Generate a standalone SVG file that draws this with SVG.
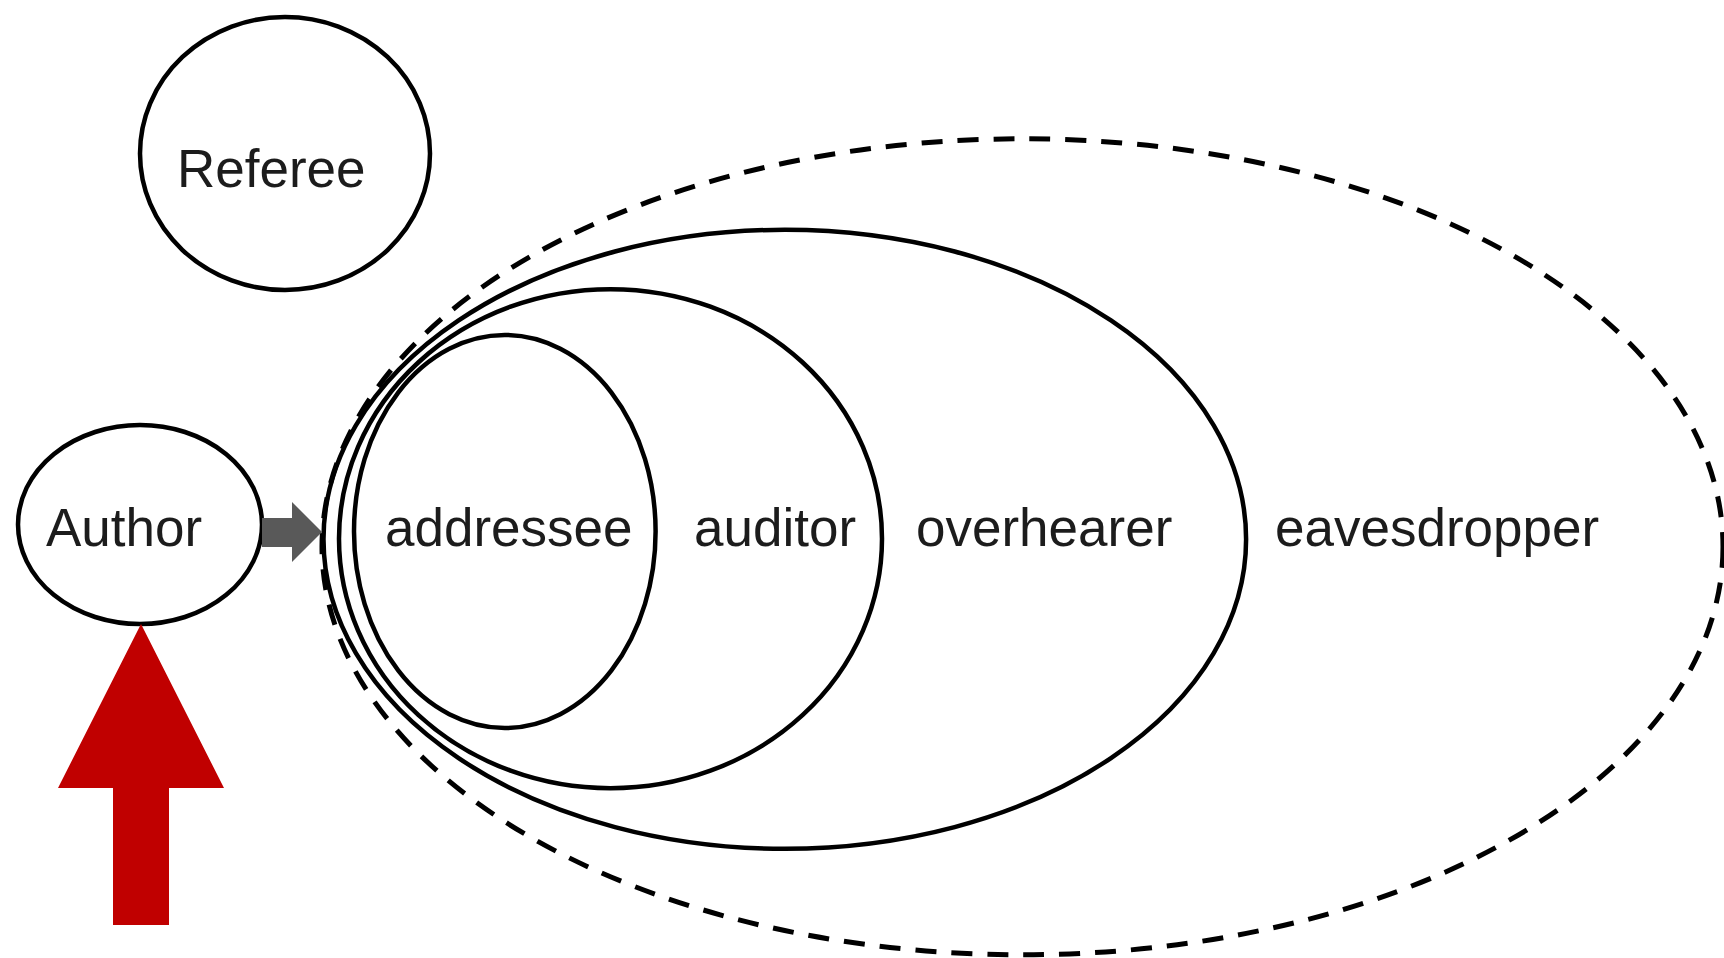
<svg xmlns="http://www.w3.org/2000/svg" width="1724" height="958" viewBox="0 0 1724 958">
  <style>
    .ring { fill: none; stroke: #000; stroke-width: 4.5; }
    .dash { fill: none; stroke: #000; stroke-width: 5; stroke-dasharray: 21 15; }
    .label { font-family: "Liberation Sans", Arial, sans-serif; font-size: 53px; fill: #1c1c1c; }
  </style>

  <rect width="1724" height="958" fill="#fff"/>

  <!-- audience rings, outermost first -->
  <g id="eavesdropper">
    <ellipse class="dash" cx="1022.5" cy="546.8" rx="700.5" ry="408"/>
    <text class="label" x="1275" y="546">eavesdropper</text>
  </g>
  <g id="overhearer">
    <ellipse class="ring" cx="784.8" cy="539.3" rx="461.3" ry="309.5"/>
    <text class="label" x="916" y="546">overhearer</text>
  </g>
  <g id="auditor">
    <ellipse class="ring" cx="610.5" cy="538.7" rx="271.5" ry="249.5"/>
    <text class="label" x="694" y="546">auditor</text>
  </g>
  <g id="addressee">
    <ellipse class="ring" cx="504.8" cy="531.5" rx="150.8" ry="196.5"/>
    <text class="label" x="385" y="546">addressee</text>
  </g>

  <g id="referee">
    <ellipse class="ring" cx="285" cy="153.5" rx="145" ry="136.5"/>
    <text class="label" x="177" y="187">Referee</text>
  </g>
  <g id="author">
    <ellipse class="ring" cx="140" cy="524.5" rx="122" ry="99.5"/>
    <text class="label" x="46" y="546">Author</text>
  </g>

  <!-- block arrows -->
  <g id="connectors">
    <polygon fill="#595959" points="262,518 292,518 292,502 322,532 292,562 292,547 262,547"/>
    <polygon fill="#c00000" points="141,624 224,788 169,788 169,925 113,925 113,788 58,788"/>
  </g>
</svg>
